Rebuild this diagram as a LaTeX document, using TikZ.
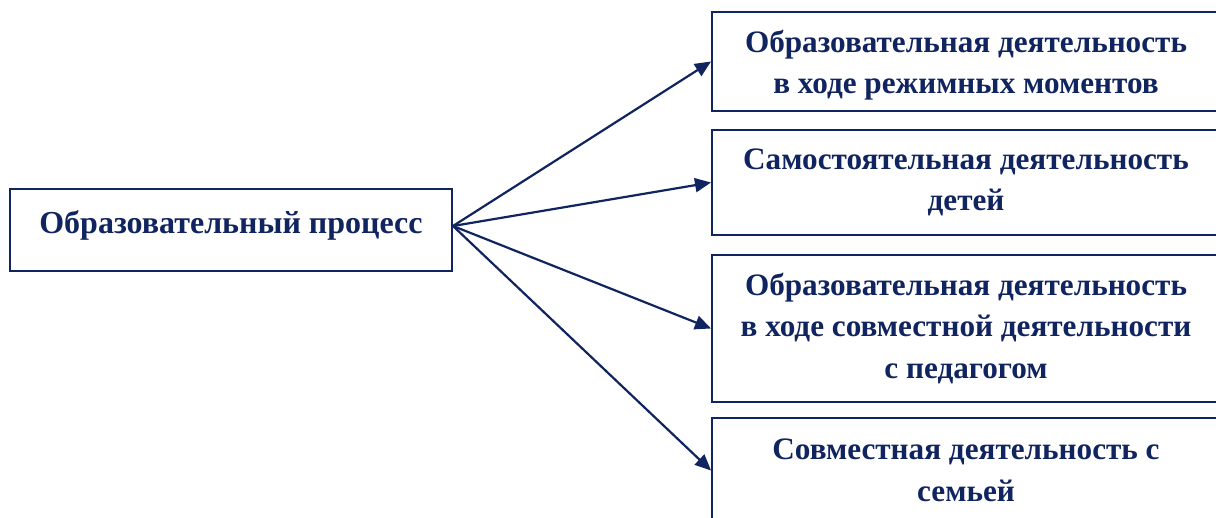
\documentclass[tikz,border=0pt]{standalone}
\usepackage{fontspec}
\setmainfont{Liberation Serif}
\usepackage{xcolor}
\usetikzlibrary{arrows.meta, positioning, calc}

\definecolor{navy}{RGB}{16,36,96}

\tikzset{
    box/.style={draw=navy, line width=1pt, text=navy, align=center,
      font=\fontsize{15.6}{20.8}\selectfont\bfseries, inner sep=0pt},
    link/.style={draw=navy, line width=1.1pt, -{Triangle[length=8pt,width=7pt]}}
}

\begin{document}
\begin{tikzpicture}[x=0.5pt,y=-0.5pt]
    \clip (0,0) rectangle (1216,518);
    \fill[white] (0,0) rectangle (1216,518);

    % Left
    \node[box, font=\fontsize{16}{21}\selectfont\bfseries, minimum width=221pt, minimum height=41pt, text depth=8pt] (proc) at (231,230) {Образовательный процесс};
    \coordinate (src) at ([yshift=2pt]proc.east);

    % Right
    \node[box, minimum width=254pt, minimum height=49.5pt] (mom) at (966,61.5)
      {\rule{0pt}{15pt}Образовательная деятельность\\в ходе режимных моментов};
    \node[box, minimum width=254pt, minimum height=52.5pt] (self) at (966,182.5)
      {Самостоятельная деятельность\\детей};
    \node[box, minimum width=254pt, minimum height=73.5pt] (ped) at (966,328.5)
      {Образовательная деятельность\\в ходе совместной деятельности\\с педагогом};
    \node[box, minimum width=254pt, minimum height=52.5pt] (fam) at (966,470.5)
      {Совместная деятельность с\\семьей};

    % Arrows
    \foreach \t in {mom,self,ped,fam}
    \draw[link] (src) -- (\t.west);
  \end{tikzpicture}
\end{document}
